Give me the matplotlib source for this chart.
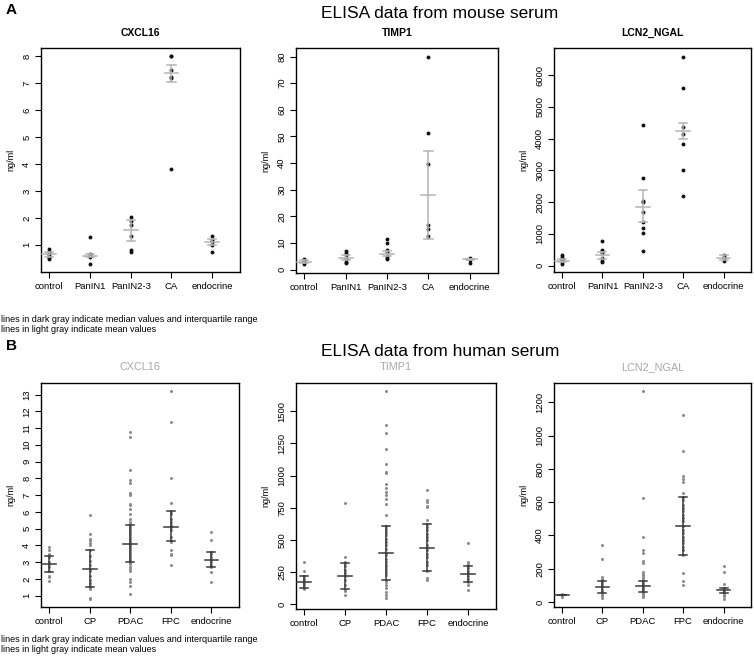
import matplotlib
matplotlib.use('Agg')
import matplotlib.pyplot as plt

plt.rcParams['font.family'] = ['Liberation Sans', 'DejaVu Sans']

# ---- data ----
mouse_groups = ['control', 'PanIN1', 'PanIN2-3', 'CA', 'endocrine']
human_groups = ['control', 'CP', 'PDAC', 'FPC', 'endocrine']

m_cxcl16 = [[0.85, 0.72, 0.65, 0.6, 0.5, 0.48],
            [1.28, 0.65, 0.6, 0.58, 0.55, 0.3],
            [2.04, 1.87, 1.74, 1.33, 0.79, 0.73],
            [8.0, 8.0, 7.5, 7.25, 7.2, 3.82],
            [1.33, 1.18, 1.1, 1.0, 0.73]]
m_cxcl16_mid = [0.65, 0.6, 1.56, 7.37, 1.09]
m_cxcl16_lo = [0.54, 0.54, 1.16, 7.03, 0.99]
m_cxcl16_hi = [0.75, 0.66, 1.94, 7.69, 1.21]

m_timp1 = [[3.8, 3.3, 3.0, 2.8, 2.2],
           [6.9, 6.3, 5.3, 4.0, 3.0, 2.5],
           [11.4, 10.0, 7.3, 6.5, 4.9, 4.2, 4.0],
           [80, 51.4, 39.6, 16.6, 15.3, 12.7],
           [4.3, 3.9, 3.6, 2.6]]
m_timp1_mid = [3.0, 4.5, 5.8, 28.0, 3.8]
m_timp1_lo = [2.6, 3.6, 4.9, 11.6, 3.5]
m_timp1_hi = [3.4, 5.5, 6.8, 44.6, 4.1]

m_lcn2 = [[320, 280, 220, 180, 150, 110, 60],
          [770, 500, 460, 400, 230, 150, 100],
          [4420, 2770, 2020, 2000, 1690, 1370, 1180, 1020, 450],
          [6580, 5580, 4360, 4150, 3830, 3000, 2180],
          [320, 270, 240, 150]]
m_lcn2_mid = [158, 337, 1831, 4242, 253]
m_lcn2_lo = [126, 210, 1368, 3979, 190]
m_lcn2_hi = [210, 430, 2380, 4495, 326]

h_cxcl16 = [[3.9, 3.75, 3.5, 3.3, 3.0, 2.9, 2.7, 2.5, 2.2, 2.1, 1.85],
            [5.8, 4.7, 4.4, 4.35, 4.3, 4.15, 4.0, 3.7, 3.35, 3.05, 2.8, 2.6,
             2.45, 2.15, 1.95, 1.75, 1.55, 1.5, 1.45, 1.4, 0.86, 0.78],
            [10.8, 10.5, 8.5, 7.9, 7.7, 7.1, 7.05, 7.0, 6.5, 6.4, 6.2, 5.9,
             5.6, 5.4, 5.25, 5.2, 5.1, 5.0, 4.9, 4.8, 4.7, 4.6, 4.5, 4.4,
             4.3, 4.2, 4.15, 4.1, 4.05, 4.0, 3.95, 3.9, 3.85, 3.8, 3.7, 3.6,
             3.5, 3.4, 3.3, 3.2, 3.15, 3.1, 3.05, 3.0, 2.95, 2.9, 2.7, 2.6,
             2.5, 2.0, 1.8, 1.6, 1.1],
            [13.2, 11.4, 8.05, 6.55, 6.0, 5.9, 5.6, 5.4, 5.2, 5.1, 4.9, 4.5,
             4.25, 4.2, 3.7, 3.5, 3.4, 2.8],
            [4.8, 4.3, 3.6, 3.5, 3.3, 3.15, 3.0, 2.85, 2.7, 2.4, 1.8]]
h_cxcl16_mid = [2.89, 2.61, 4.1, 5.12, 3.15]
h_cxcl16_lo = [2.41, 1.52, 3.0, 4.25, 2.7]
h_cxcl16_hi = [3.35, 3.7, 5.2, 6.05, 3.6]

h_timp1 = [[330, 260, 220, 200, 180, 165, 150, 130, 120],
           [786, 370, 330, 320, 300, 265, 245, 220, 190, 150, 115, 100, 75],
           [1657, 1394, 1335, 1211, 1090, 1026, 1018, 935, 902, 876, 850,
            820, 781, 691, 608, 588, 562, 536, 510, 484, 459, 433, 402, 381,
            356, 330, 304, 300, 278, 253, 227, 193, 170, 150, 124, 98, 72, 46],
           [889, 814, 799, 768, 755, 652, 626, 600, 575, 549, 523, 497, 459,
            441, 420, 394, 369, 330, 304, 260, 206, 186],
           [480, 330, 315, 300, 280, 260, 240, 220, 200, 175, 150, 110]]
h_timp1_mid = [170, 219, 402, 441, 235]
h_timp1_lo = [124, 116, 193, 260, 175]
h_timp1_hi = [222, 325, 608, 626, 299]

h_lcn2 = [[46, 42, 38, 32],
          [343, 260, 148, 140, 130, 120, 110, 95, 88, 75, 65, 52, 45, 35, 22],
          [1266, 622, 390, 313, 297, 247, 233, 183, 170, 162, 150, 142, 130,
           120, 110, 105, 100, 96, 90, 85, 80, 75, 70, 65, 60, 55, 50, 42,
           35, 28],
          [1121, 909, 760, 738, 722, 658, 630, 614, 584, 564, 544, 524, 504,
           484, 457, 433, 413, 393, 373, 353, 333, 313, 283, 177, 126, 102],
          [219, 179, 108, 82, 75, 70, 65, 56, 45, 36, 20]]
h_lcn2_mid = [42, 88, 96, 457, 72]
h_lcn2_lo = [40, 52, 60, 283, 56]
h_lcn2_hi = [44, 126, 126, 630, 82]

note1 = 'lines in dark gray indicate median values and interquartile range'
note2 = 'lines in light gray indicate mean values'

W, H = 754, 659
fig = plt.figure(figsize=(W / 100, H / 100), dpi=100)


def add_ax(x0, y0, x1, y1):
    return fig.add_axes([x0 / W, 1 - y1 / H, (x1 - x0) / W, (y1 - y0) / H])


def panel(ax, groups, vals, mid, lo, hi, title, yticks, ylim, human):
    pt_col = '#8c8c8c' if human else '#111111'
    ln_col = '#3a3a3a' if human else '#b4b4b4'
    ms = 2.2 if human else 2.8
    for i, v in enumerate(vals):
        ax.plot([i + 1] * len(v), v, 'o', ms=ms, color=pt_col, mec='none', zorder=2)
        x = i + 1
        ax.plot([x, x], [lo[i], hi[i]], color=ln_col, lw=1.1, zorder=3)
        ax.plot([x - 0.17, x + 0.17], [mid[i], mid[i]], color=ln_col, lw=1.1, zorder=3)
        for y in (lo[i], hi[i]):
            ax.plot([x - 0.1, x + 0.1], [y, y], color=ln_col, lw=1.1, zorder=3)
    ax.set_xlim(0.8, 5.68)
    ax.set_ylim(*ylim)
    ax.set_xticks(range(1, 6))
    ax.set_xticklabels(groups, fontsize=6.8)
    ax.set_yticks(yticks)
    ax.set_yticklabels([str(t) for t in yticks], fontsize=6.8, rotation=90, va='center')
    ax.tick_params(length=4, width=0.8, pad=3)
    ax.set_ylabel('ng/ml', fontsize=6.5, labelpad=5)
    for s in ax.spines.values():
        s.set_linewidth(1.0)
    if human:
        ax.set_title(title, fontsize=7.8, color='#a8a8a8', pad=9)
    else:
        ax.set_title(title, fontsize=7.5, fontweight='bold', pad=9)


# mouse row
ax = add_ax(41, 48, 240, 272)
panel(ax, mouse_groups, m_cxcl16, m_cxcl16_mid, m_cxcl16_lo, m_cxcl16_hi,
      'CXCL16', list(range(1, 9)), (-0.01, 8.31), False)
ax = add_ax(296, 48, 498, 273)
panel(ax, mouse_groups, m_timp1, m_timp1_mid, m_timp1_lo, m_timp1_hi,
      'TIMP1', list(range(0, 81, 10)), (-1.3, 83.2), False)
ax = add_ax(554, 48, 751, 272)
panel(ax, mouse_groups, m_lcn2, m_lcn2_mid, m_lcn2_lo, m_lcn2_hi,
      'LCN2_NGAL', list(range(0, 6001, 1000)), (-200, 6850), False)

# human row
ax = add_ax(41, 383, 239, 607)
panel(ax, human_groups, h_cxcl16, h_cxcl16_mid, h_cxcl16_lo, h_cxcl16_hi,
      'CXCL16', list(range(1, 14)), (0.32, 13.7), True)
ax = add_ax(296, 383, 496, 609)
panel(ax, human_groups, h_timp1, h_timp1_mid, h_timp1_lo, h_timp1_hi,
      'TIMP1', list(range(0, 1501, 250)), (-36, 1720), True)
ax = add_ax(554, 383, 751, 607)
panel(ax, human_groups, h_lcn2, h_lcn2_mid, h_lcn2_lo, h_lcn2_hi,
      'LCN2_NGAL', list(range(0, 1201, 200)), (-30, 1316), True)

# headings and notes
fig.text(6 / W, 1 - 10 / H, 'A', fontsize=11, fontweight='bold', va='center')
fig.text(440 / W, 1 - 14 / H, 'ELISA data from mouse serum', fontsize=12.5, ha='center', va='center')
fig.text(6 / W, 1 - 346 / H, 'B', fontsize=11, fontweight='bold', va='center')
fig.text(440 / W, 1 - 352 / H, 'ELISA data from human serum', fontsize=12.5, ha='center', va='center')
fig.text(1 / W, 1 - 320 / H, note1, fontsize=6.5, va='center')
fig.text(1 / W, 1 - 330 / H, note2, fontsize=6.5, va='center')
fig.text(1 / W, 1 - 640 / H, note1, fontsize=6.5, va='center')
fig.text(1 / W, 1 - 650 / H, note2, fontsize=6.5, va='center')

plt.savefig('out.png', dpi=100)
